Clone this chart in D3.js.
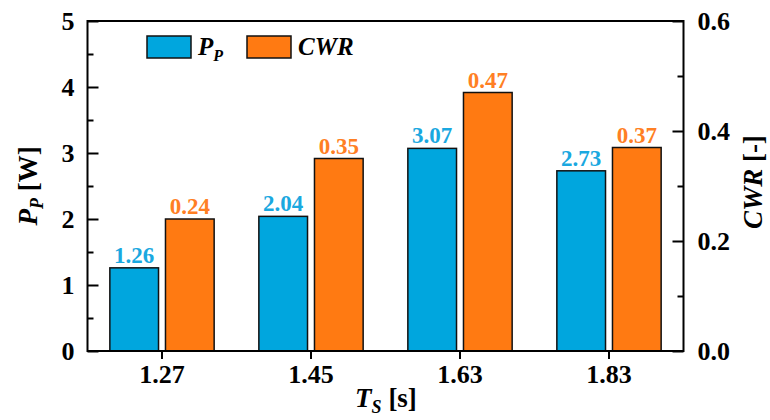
<!DOCTYPE html>
<html>
<head>
<meta charset="utf-8">
<script src="https://cdn.jsdelivr.net/npm/d3@7"></script>
<style>
  html, body { margin: 0; padding: 0; background: #fff; }
  svg text { font-family: "Liberation Serif", "Times New Roman", serif; font-weight: bold; }
</style>
</head>
<body>
<svg id="chart" width="770" height="420"></svg>
<script>
// Sampling periods and measured values
const periods = ["1.27", "1.45", "1.63", "1.83"];
const powerValues = [1.26, 2.04, 3.07, 2.73];   // P_P [W]
const cwrValues = [0.24, 0.35, 0.47, 0.37];     // CWR [-]
const leftTicks = [0, 1, 2, 3, 4, 5];
const leftMinorTicks = [0.5, 1.5, 2.5, 3.5, 4.5];
const rightTicks = [0, 0.2, 0.4, 0.6];
const rightMinorTicks = [0.1, 0.3, 0.5];

const blue = "#00A6DE";
const orange = "#FF7A12";
const blueText = "#1AA8E0";
const orangeText = "#FF7F24";

const svg = d3.select("#chart");
const plot = { left: 87.5, right: 683.5, top: 21, bottom: 351 };

const x = d3.scaleBand()
  .domain(periods)
  .range([plot.left, plot.right])
  .paddingInner(0.3)
  .paddingOuter(0.15);

const sub = d3.scaleBand()
  .domain(["P", "CWR"])
  .range([0, x.bandwidth()])
  .paddingInner(0.125);

const yLeft = d3.scaleLinear().domain([0, 5]).range([plot.bottom, plot.top]);
const yRight = d3.scaleLinear().domain([0, 0.6]).range([plot.bottom, plot.top]);

const rows = periods.map((p, i) => ({ period: p, power: powerValues[i], cwr: cwrValues[i] }));

// Bars
const groups = svg.append("g").selectAll("g")
  .data(rows).join("g")
  .attr("transform", d => `translate(${x(d.period)},0)`);

groups.append("rect")
  .attr("x", sub("P"))
  .attr("y", d => yLeft(d.power))
  .attr("width", sub.bandwidth())
  .attr("height", d => plot.bottom - yLeft(d.power))
  .attr("fill", blue)
  .attr("stroke", "#111")
  .attr("stroke-width", 1.5);

groups.append("rect")
  .attr("x", sub("CWR"))
  .attr("y", d => yRight(d.cwr))
  .attr("width", sub.bandwidth())
  .attr("height", d => plot.bottom - yRight(d.cwr))
  .attr("fill", orange)
  .attr("stroke", "#111")
  .attr("stroke-width", 1.5);

// Value labels
groups.append("text")
  .attr("x", sub("P") + sub.bandwidth() / 2)
  .attr("y", d => yLeft(d.power) - 5)
  .attr("text-anchor", "middle")
  .attr("fill", blueText)
  .style("font-size", "23px")
  .text(d => d3.format(".2f")(d.power));

groups.append("text")
  .attr("x", sub("CWR") + sub.bandwidth() / 2)
  .attr("y", d => yRight(d.cwr) - 5)
  .attr("text-anchor", "middle")
  .attr("fill", orangeText)
  .style("font-size", "23px")
  .text(d => d3.format(".2f")(d.cwr));

// Frame
svg.append("rect")
  .attr("x", plot.left).attr("y", plot.top)
  .attr("width", plot.right - plot.left)
  .attr("height", plot.bottom - plot.top)
  .attr("fill", "none")
  .attr("stroke", "#000")
  .attr("stroke-width", 2);

function styleAxis(g, size) {
  g.select(".domain").remove();
  g.selectAll("line").attr("stroke", "#000").attr("stroke-width", 2);
  g.selectAll("text").attr("fill", "#000").style("font-size", size + "px")
    .style("font-family", "'Liberation Serif', serif").style("font-weight", "bold");
}

// Left axis
svg.append("g").attr("transform", `translate(${plot.left},0)`)
  .call(d3.axisLeft(yLeft).tickValues(leftTicks).tickFormat(d3.format("d"))
    .tickSize(-11).tickPadding(13))
  .call(g => styleAxis(g, 26));
svg.append("g").attr("transform", `translate(${plot.left},0)`)
  .call(d3.axisLeft(yLeft).tickValues(leftMinorTicks).tickFormat("").tickSize(-6))
  .call(g => styleAxis(g, 26));

// Right axis
svg.append("g").attr("transform", `translate(${plot.right},0)`)
  .call(d3.axisRight(yRight).tickValues(rightTicks).tickFormat(d3.format(".1f"))
    .tickSize(-11).tickPadding(14))
  .call(g => styleAxis(g, 26));
svg.append("g").attr("transform", `translate(${plot.right},0)`)
  .call(d3.axisRight(yRight).tickValues(rightMinorTicks).tickFormat("").tickSize(-6))
  .call(g => styleAxis(g, 26));

// Bottom axis
svg.append("g").attr("transform", `translate(0,${plot.bottom})`)
  .call(d3.axisBottom(x).tickSize(8).tickPadding(6))
  .call(g => styleAxis(g, 26));

// Axis titles
const yTitle = svg.append("text")
  .attr("transform", "translate(37,186) rotate(-90)")
  .attr("text-anchor", "middle")
  .style("font-size", "27px");
yTitle.append("tspan").style("font-style", "italic").text("P");
yTitle.append("tspan").style("font-style", "italic").style("font-size", "18px")
  .attr("dy", 6).text("P");
yTitle.append("tspan").attr("dy", -6).text(" [W]");

const y2Title = svg.append("text")
  .attr("transform", "translate(762,182) rotate(-90)")
  .attr("text-anchor", "middle")
  .style("font-size", "27px");
y2Title.append("tspan").style("font-style", "italic").text("CWR");
y2Title.append("tspan").text(" [-]");

const xTitle = svg.append("text")
  .attr("x", 386).attr("y", 407)
  .attr("text-anchor", "middle")
  .style("font-size", "27px");
xTitle.append("tspan").style("font-style", "italic").text("T");
xTitle.append("tspan").style("font-style", "italic").style("font-size", "18px")
  .attr("dy", 6).text("S");
xTitle.append("tspan").attr("dy", -6).text(" [s]");

// Legend
const legendItems = [
  { key: "P", color: blue, x: 147 },
  { key: "CWR", color: orange, x: 247 }
];
const legend = svg.append("g");
legendItems.forEach(item => {
  legend.append("rect")
    .attr("x", item.x).attr("y", 36)
    .attr("width", 44).attr("height", 22)
    .attr("fill", item.color)
    .attr("stroke", "#111").attr("stroke-width", 1.5);
  const t = legend.append("text")
    .attr("x", item.x + 51).attr("y", 55)
    .style("font-size", "25px").style("font-style", "italic");
  if (item.key === "P") {
    t.append("tspan").text("P");
    t.append("tspan").style("font-size", "16px").attr("dy", 6).text("P");
  } else {
    t.append("tspan").text("CWR");
  }
});
</script>
</body>
</html>
